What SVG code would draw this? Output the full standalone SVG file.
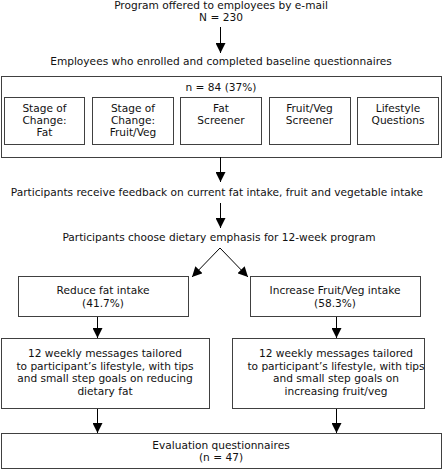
<svg xmlns="http://www.w3.org/2000/svg" width="443" height="470" viewBox="0 0 443 470">
<defs>
<style>
text{font-family:"DejaVu Sans",Verdana,sans-serif;font-size:10.6px;fill:#111;text-anchor:middle}
.box{fill:#fff;stroke:#404040;stroke-width:1}
.conn line{stroke:#000;stroke-width:1}
</style>
<marker id="ah" viewBox="0 0 10 10" refX="10" refY="5" markerWidth="10" markerHeight="10" markerUnits="userSpaceOnUse" orient="auto">
<path d="M0,0 L10,5 L0,10 Z" fill="#000"/>
</marker>
</defs>
<rect width="443" height="470" fill="#fff"/>
<g id="n-offer">
<text x="221" y="9">Program offered to employees by e-mail</text>
<text x="221" y="21">N = 230</text>
</g>
<g id="n-enrolled">
<text x="221" y="65">Employees who enrolled and completed baseline questionnaires</text>
<rect class="box" x="1.5" y="76.5" width="440" height="81"/>
<text x="221" y="91">n = 84 (37%)</text>
</g>
<g id="n-soc-fat">
<rect class="box" x="4.5" y="97.5" width="80" height="47"/>
<text x="44.5" y="112">Stage of</text><text x="44.5" y="124">Change:</text><text x="44.5" y="136">Fat</text>
</g>
<g id="n-soc-fv">
<rect class="box" x="92.5" y="97.5" width="81" height="47"/>
<text x="133" y="112">Stage of</text><text x="133" y="124">Change:</text><text x="133" y="136">Fruit/Veg</text>
</g>
<g id="n-fat-screener">
<rect class="box" x="180.5" y="97.5" width="81" height="47"/>
<text x="221" y="112">Fat</text><text x="221" y="124">Screener</text>
</g>
<g id="n-fv-screener">
<rect class="box" x="269.5" y="97.5" width="81" height="47"/>
<text x="309.5" y="112">Fruit/Veg</text><text x="309.5" y="124">Screener</text>
</g>
<g id="n-lifestyle">
<rect class="box" x="357.5" y="97.5" width="81" height="47"/>
<text x="398" y="112">Lifestyle</text><text x="398" y="124">Questions</text>
</g>
<g id="n-feedback">
<text x="217" y="196">Participants receive feedback on current fat intake, fruit and vegetable intake</text>
</g>
<g id="n-choose">
<text x="219" y="241">Participants choose dietary emphasis for 12-week program</text>
</g>
<g id="n-reduce">
<rect class="box" x="18.5" y="276.5" width="170" height="40"/>
<text x="103" y="294">Reduce fat intake</text><text x="103" y="307">(41.7%)</text>
</g>
<g id="n-increase">
<rect class="box" x="250.5" y="276.5" width="170" height="40"/>
<text x="335" y="294">Increase Fruit/Veg intake</text><text x="335" y="307">(58.3%)</text>
</g>
<g id="n-msg-fat">
<rect class="box" x="1.5" y="338.5" width="208" height="70"/>
<text x="105" y="357">12 weekly messages tailored</text>
<text x="105" y="369.5">to participant’s lifestyle, with tips</text>
<text x="105" y="382">and small step goals on reducing</text>
<text x="105" y="394.5">dietary fat</text>
</g>
<g id="n-msg-fv">
<rect class="box" x="232.5" y="338.5" width="192" height="70"/>
<text x="336" y="357">12 weekly messages tailored</text>
<text x="336" y="369.5">to participant’s lifestyle, with tips</text>
<text x="336" y="382">and small step goals on</text>
<text x="336" y="394.5">increasing fruit/veg</text>
</g>
<g id="n-eval">
<rect class="box" x="1.5" y="433.5" width="440" height="35"/>
<text x="221" y="449">Evaluation questionnaires</text>
<text x="221" y="461">(n = 47)</text>
</g>
<g class="conn" id="connectors">
<line x1="220.5" y1="27" x2="220.5" y2="53" marker-end="url(#ah)"/>
<line x1="220.5" y1="157" x2="220.5" y2="182" marker-end="url(#ah)"/>
<line x1="220.5" y1="203" x2="220.5" y2="228" marker-end="url(#ah)"/>
<line x1="220" y1="248" x2="192" y2="277" marker-end="url(#ah)"/>
<line x1="220" y1="248" x2="248" y2="277" marker-end="url(#ah)"/>
<line x1="97.5" y1="317" x2="97.5" y2="338" marker-end="url(#ah)"/>
<line x1="336.5" y1="317" x2="336.5" y2="338" marker-end="url(#ah)"/>
<line x1="97.5" y1="409" x2="97.5" y2="433" marker-end="url(#ah)"/>
<line x1="336.5" y1="409" x2="336.5" y2="433" marker-end="url(#ah)"/>
</g>
</svg>
